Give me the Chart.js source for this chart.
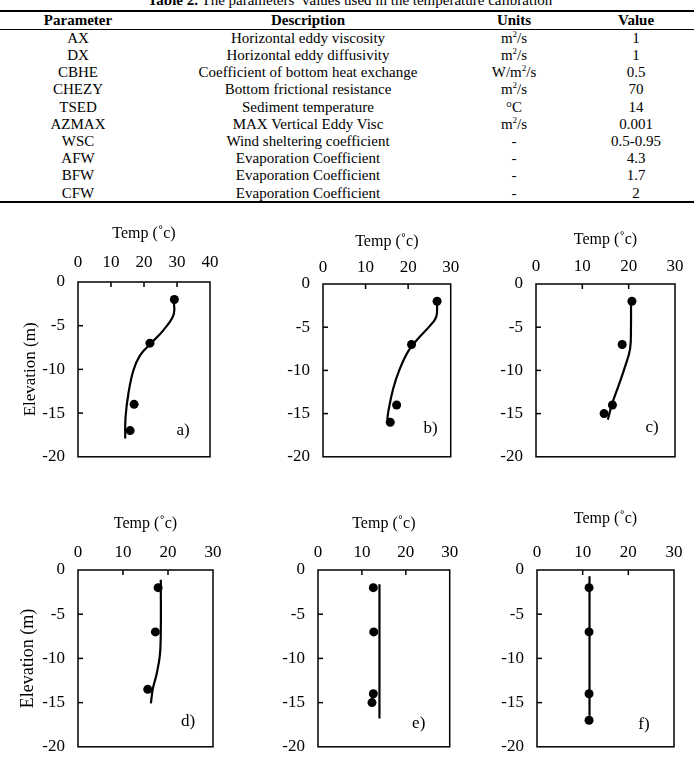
<!DOCTYPE html>
<html>
<head>
<meta charset="utf-8">
<script src="https://cdn.jsdelivr.net/npm/chart.js@4.4.0/dist/chart.umd.min.js"></script>
<style>
  body { margin: 0; background: #fff; }
  #page { position: relative; width: 694px; height: 770px; overflow: hidden; font-family: "Liberation Serif", "Times New Roman", serif; color: #000; }
  .cell { position: absolute; transform: translateX(-50%); white-space: nowrap; font-size: 15px; line-height: 17px; }
  .head { font-weight: bold; }
  .rule { position: absolute; left: 0; width: 694px; background: #000; }
  sup { font-size: 9px; line-height: 0; vertical-align: 6px; }
  canvas { position: absolute; }
</style>
</head>
<body>
<div id="page"></div>
<script>
// ---- table data ----
var parametri = ["AX", "DX", "CBHE", "CHEZY", "TSED", "AZMAX", "WSC", "AFW", "BFW", "CFW"];
var descrizioni = ["Horizontal eddy viscosity", "Horizontal eddy diffusivity", "Coefficient of bottom heat exchange",
    "Bottom frictional resistance", "Sediment temperature", "MAX Vertical Eddy Visc", "Wind sheltering coefficient",
    "Evaporation Coefficient", "Evaporation Coefficient", "Evaporation Coefficient"];
var unita = ["m<sup>2</sup>/s", "m<sup>2</sup>/s", "W/m<sup>2</sup>/s", "m<sup>2</sup>/s", "°C", "m<sup>2</sup>/s", "-", "-", "-", "-"];
var valori = ["1", "1", "0.5", "70", "14", "0.001", "0.5-0.95", "4.3", "1.7", "2"];

// ---- profile data (temp in C, elevation in m) ----
var panelLabels = ["a)", "b)", "c)", "d)", "e)", "f)"];
var tempMax = [40, 30, 30, 30, 30, 30];
var depthTicks = [0, -5, -10, -15, -20];

// measured points
var obsTempA = [29.2, 21.8, 17.0, 15.8];  var obsDepthA = [-2, -7, -14, -17];
var obsTempB = [26.8, 20.8, 17.3, 15.8];  var obsDepthB = [-2, -7, -14, -16];
var obsTempC = [20.7, 18.6, 16.5, 14.7];  var obsDepthC = [-2, -7, -14, -15];
var obsTempD = [17.8, 17.2, 15.5];        var obsDepthD = [-2, -7, -13.5];
var obsTempE = [12.6, 12.7, 12.6, 12.3];  var obsDepthE = [-2, -7, -14, -15];
var obsTempF = [11.4, 11.4, 11.4, 11.4];  var obsDepthF = [-2, -7, -14, -17];

// model curves
var modTempA = [29.0, 29.0, 25.9, 21.9, 18.8, 16.8, 15.3, 14.4, 14.3];
var modDepthA = [-2, -3.7, -5.5, -7.1, -8.4, -10.1, -12.7, -15.5, -17.9];
var modTempB = [26.8, 26.6, 25.0, 22.2, 20.0, 17.9, 16.5, 15.4, 15.1];
var modDepthB = [-2, -3.8, -4.9, -6.4, -7.8, -10, -12.1, -14.6, -15.7];
var modTempC = [20.5, 20.5, 20.3, 19.2, 17.8, 16.4, 15.5];
var modDepthC = [-1.9, -4.9, -7.5, -9.6, -11.8, -13.9, -15.7];
var modTempD = [18.4, 18.4, 18.2, 17.5, 16.6, 16.2];
var modDepthD = [-1.1, -6.7, -9.6, -11.7, -13.5, -15.1];
var modTempE = [14, 14];     var modDepthE = [-1.6, -16.8];
var modTempF = [11.5, 11.5]; var modDepthF = [-0.7, -16.5];

var osservati = [[obsTempA, obsDepthA], [obsTempB, obsDepthB], [obsTempC, obsDepthC],
                 [obsTempD, obsDepthD], [obsTempE, obsDepthE], [obsTempF, obsDepthF]];
var modello = [[modTempA, modDepthA], [modTempB, modDepthB], [modTempC, modDepthC],
               [modTempD, modDepthD], [modTempE, modDepthE], [modTempF, modDepthF]];

var serif = '"Liberation Serif", "Times New Roman", serif';
var page = document.getElementById('page');

// ---- table ----
function addCell(html, x, y, cls) {
    var d = document.createElement('div');
    d.className = 'cell' + (cls ? ' ' + cls : '');
    d.style.left = x + 'px';
    d.style.top = (y - 8.5) + 'px';
    d.innerHTML = html;
    page.appendChild(d);
}
function addRule(y, h) {
    var r = document.createElement('div');
    r.className = 'rule';
    r.style.top = y + 'px';
    r.style.height = h + 'px';
    page.appendChild(r);
}
var colX = [78, 308, 514, 636];
addCell('<b>Table 2.</b> The parameters\u2019 values used in the temperature calibration', 350, 0);
addRule(10, 2);
addCell('Parameter', colX[0], 20, 'head');
addCell('Description', colX[1], 20, 'head');
addCell('Units', colX[2], 20, 'head');
addCell('Value', colX[3], 20, 'head');
addRule(29, 1);
for (var i = 0; i < parametri.length; i++) {
    var yy = 38.3 + i * 17.2;
    addCell(parametri[i], colX[0], yy);
    addCell(descrizioni[i], colX[1], yy);
    addCell(unita[i], colX[2], yy);
    addCell(valori[i], colX[3], yy);
}
addRule(201, 2);

// ---- frame, inner ticks and panel letter ----
var framePlugin = {
    id: 'frame',
    afterDraw: function (chart, args, opts) {
        var c = chart.ctx, a = chart.chartArea, xs = chart.scales.x, ys = chart.scales.y;
        c.save();
        c.strokeStyle = '#000';
        c.lineWidth = 1.5;
        c.strokeRect(a.left, a.top, a.right - a.left, a.bottom - a.top);
        // ticks point inwards
        xs.ticks.forEach(function (t) {
            if (t.value <= xs.min || t.value >= xs.max) return;
            var px = xs.getPixelForValue(t.value);
            c.beginPath();
            c.moveTo(px, a.top);
            c.lineTo(px, a.top + 5);
            c.stroke();
        });
        ys.ticks.forEach(function (t) {
            if (t.value <= ys.min || t.value >= ys.max) return;
            var py = ys.getPixelForValue(t.value);
            c.beginPath();
            c.moveTo(a.left, py);
            c.lineTo(a.left + 5, py);
            c.stroke();
        });
        c.fillStyle = '#000';
        c.font = '17px ' + serif;
        c.textAlign = 'center';
        c.textBaseline = 'middle';
        c.fillText(opts.text, a.right - opts.dx, a.bottom - opts.dy);
        c.restore();
    }
};

// canvas box + plot area (page coords)
var pannelli = [
    {cx: 0,   cy: 215, cw: 230, ch: 265, L: 78,  R: 210, T: 282, B: 468, titleY: 234, tickY: 263, yTitleX: 31,   yTitleSize: 17, dx: 27, dy: 26},
    {cx: 240, cy: 215, cw: 225, ch: 265, L: 323, R: 463, T: 284, B: 470, titleY: 242, tickY: 268, yTitleX: 0,    yTitleSize: 0,  dx: 20, dy: 28},
    {cx: 465, cy: 215, cw: 229, ch: 265, L: 536, R: 675, T: 284, B: 469, titleY: 240, tickY: 267, yTitleX: 0,    yTitleSize: 0,  dx: 23, dy: 29},
    {cx: 0,   cy: 500, cw: 230, ch: 270, L: 78,  R: 213, T: 570, B: 758, titleY: 524, tickY: 553, yTitleX: 28.5, yTitleSize: 18, dx: 25, dy: 25},
    {cx: 240, cy: 500, cw: 225, ch: 270, L: 318, R: 454, T: 570, B: 758, titleY: 524, tickY: 553, yTitleX: 0,    yTitleSize: 0,  dx: 31, dy: 23},
    {cx: 465, cy: 500, cw: 229, ch: 270, L: 537, R: 674, T: 570, B: 752, titleY: 519, tickY: 553, yTitleX: 0,    yTitleSize: 0,  dx: 30, dy: 22}
];

function punti(xs, ys) {
    return xs.map(function (x, k) { return {x: x, y: ys[k]}; });
}

pannelli.forEach(function (p, n) {
    var cv = document.createElement('canvas');
    cv.width = p.cw;
    cv.height = p.ch;
    cv.style.left = p.cx + 'px';
    cv.style.top = p.cy + 'px';
    page.appendChild(cv);

    var yW = p.L - p.cx;
    var xH = p.T - p.cy;
    var tickFont = {family: serif, size: 17, lineHeight: 1.2};
    var hasYTitle = p.yTitleSize > 0;
    var yLH = p.yTitleSize * 1.2;

    new Chart(cv, {
        type: 'scatter',
        data: {
            datasets: [{
                type: 'line',
                data: punti(modello[n][0], modello[n][1]),
                borderColor: '#000',
                borderWidth: 2.2,
                pointRadius: 0,
                tension: 0.4,
                fill: false
            }, {
                data: punti(osservati[n][0], osservati[n][1]),
                backgroundColor: '#000',
                borderWidth: 0,
                pointRadius: 4.5
            }]
        },
        options: {
            responsive: false,
            animation: false,
            events: [],
            layout: {padding: {left: 0, top: 0, right: p.cx + p.cw - p.R, bottom: p.cy + p.ch - p.B}},
            plugins: {
                legend: {display: false},
                tooltip: {enabled: false},
                frame: {text: panelLabels[n], dx: p.dx, dy: p.dy}
            },
            scales: {
                x: {
                    type: 'linear',
                    position: 'top',
                    min: 0,
                    max: tempMax[n],
                    grid: {display: false, drawTicks: false},
                    border: {display: false},
                    ticks: {stepSize: 10, color: '#000', font: tickFont, padding: (p.T - p.tickY) - 10.2, maxRotation: 0},
                    title: {display: true, text: 'Temp (˚c)', color: '#000', font: {family: serif, size: 16, lineHeight: 1.2},
                            padding: {top: (p.titleY - p.cy) - 9.6, bottom: 0}},
                    afterFit: function (s) { s.height = xH; }
                },
                y: {
                    type: 'linear',
                    min: -20,
                    max: 0,
                    grid: {display: false, drawTicks: false},
                    border: {display: false},
                    afterBuildTicks: function (s) { s.ticks = depthTicks.map(function (v) { return {value: v}; }); },
                    ticks: {color: '#000', font: tickFont, padding: 13},
                    title: {display: hasYTitle, text: 'Elevation (m)', color: '#000',
                            font: {family: serif, size: p.yTitleSize || 12, lineHeight: 1.2},
                            padding: {top: hasYTitle ? (p.yTitleX - p.cx) - yLH / 2 : 0, bottom: 0}},
                    afterFit: function (s) { s.width = yW; }
                }
            }
        },
        plugins: [framePlugin]
    });
});
</script>
</body>
</html>
